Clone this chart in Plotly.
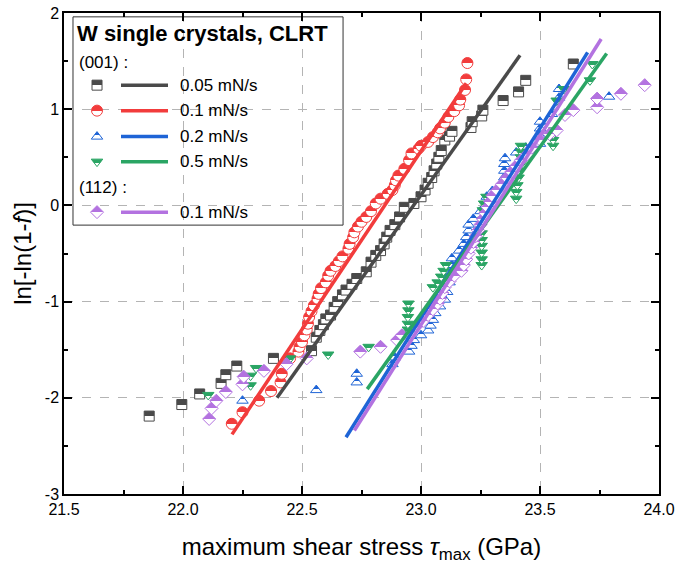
import plotly.graph_objects as go

# ---------------- data ----------------
x_001_005 = [21.858, 21.995, 22.07, 22.16, 22.18, 22.226, 22.38, 22.54, 22.56, 22.575,
             22.59, 22.60, 22.62, 22.635, 22.65, 22.67, 22.685, 22.71, 22.73, 22.77,
             22.79, 22.81, 22.83, 22.845, 22.856, 22.87, 22.89, 22.91, 22.93, 22.97,
             23.00, 23.017, 23.03, 23.045, 23.055, 23.066, 23.075, 23.085, 23.10, 23.12,
             23.13, 23.21, 23.215, 23.255, 23.26, 23.345, 23.41, 23.44, 23.64]
y_001_005 = [-2.19, -2.07, -1.96, -1.85, -1.76, -1.67, -1.59, -1.51, -1.37, -1.30,
             -1.24, -1.18, -1.14, -1.06, -1.00, -0.93, -0.88, -0.82, -0.76, -0.69,
             -0.59, -0.52, -0.47, -0.40, -0.33, -0.26, -0.20, -0.12, -0.02, 0.02,
             0.09, 0.16, 0.23, 0.29, 0.36, 0.43, 0.50, 0.57, 0.68, 0.72,
             0.77, 0.81, 0.87, 0.93, 0.99, 1.09, 1.18, 1.30, 1.47]

x_001_01 = [22.205, 22.25, 22.32, 22.37, 22.41, 22.415, 22.45, 22.485, 22.49, 22.50,
            22.51, 22.52, 22.525, 22.53, 22.54, 22.55, 22.565, 22.57, 22.58, 22.60,
            22.61, 22.62, 22.64, 22.655, 22.67, 22.695, 22.70, 22.715, 22.72, 22.735,
            22.75, 22.77, 22.79, 22.81, 22.83, 22.86, 22.88, 22.89, 22.895, 22.905,
            22.93, 22.95, 22.96, 22.99, 23.00, 23.03, 23.05, 23.07, 23.08, 23.10,
            23.115, 23.14, 23.16, 23.165, 23.185, 23.19, 23.195]
y_001_01 = [-2.27, -2.15, -2.03, -1.93, -1.84, -1.75, -1.59, -1.52, -1.47, -1.42,
            -1.35, -1.29, -1.23, -1.16, -1.10, -1.04, -0.97, -0.92, -0.86, -0.80,
            -0.73, -0.68, -0.63, -0.58, -0.53, -0.45, -0.40, -0.33, -0.28, -0.22,
            -0.17, -0.12, -0.06, 0.02, 0.07, 0.12, 0.16, 0.21, 0.26, 0.31,
            0.38, 0.47, 0.54, 0.59, 0.62, 0.66, 0.71, 0.76, 0.80, 0.86,
            0.92, 0.98, 1.04, 1.10, 1.20, 1.31, 1.48]

x_001_02 = [22.25, 22.56, 22.73, 22.73, 22.88, 22.89, 22.95, 22.96, 22.97, 23.00,
            23.03, 23.04, 23.05, 23.06, 23.08, 23.10, 23.11, 23.12, 23.125, 23.13,
            23.13, 23.16, 23.18, 23.19, 23.20, 23.20, 23.22, 23.25, 23.276, 23.30,
            23.35, 23.35, 23.35, 23.353, 23.40, 23.44, 23.50, 23.50, 23.50, 23.50,
            23.55, 23.58, 23.58, 23.79]
y_001_02 = [-2.03, -1.92, -1.84, -1.75, -1.65, -1.58, -1.52, -1.46, -1.40, -1.35,
            -1.30, -1.25, -1.19, -1.12, -1.05, -0.98, -0.90, -0.80, -0.70, -0.62,
            -0.55, -0.47, -0.40, -0.33, -0.26, -0.20, -0.14, -0.06, 0.09, 0.15,
            0.29, 0.36, 0.43, 0.49, 0.55, 0.60, 0.64, 0.72, 0.80, 0.87,
            0.95, 1.12, 1.21, 1.13]

x_001_05 = [22.106, 22.284, 22.284, 22.307, 22.45, 22.61, 22.78, 22.945, 22.945, 22.945,
            22.947, 22.947, 23.05, 23.07, 23.085, 23.095, 23.105, 23.255, 23.255, 23.255,
            23.255, 23.255, 23.255, 23.26, 23.26, 23.265, 23.275, 23.40, 23.40, 23.405,
            23.41, 23.41, 23.42, 23.42, 23.42, 23.42, 23.555, 23.555, 23.556, 23.56,
            23.57, 23.60, 23.71, 23.72]
y_001_05 = [-1.97, -1.87, -1.77, -1.69, -1.59, -1.55, -1.47, -1.29, -1.23, -1.16,
            -1.09, -1.02, -0.85, -0.80, -0.74, -0.68, -0.62, -0.62, -0.56, -0.49,
            -0.42, -0.36, -0.29, -0.15, -0.05, 0.02, 0.09, 0.07, 0.14, 0.21,
            0.29, 0.36, 0.43, 0.50, 0.56, 0.62, 0.62, 0.68, 0.74, 0.78,
            1.09, 1.21, 1.30, 1.47]

x_112_01 = [22.11, 22.12, 22.14, 22.18, 22.25, 22.255, 22.34, 22.435, 22.52, 22.745,
            22.83, 22.90, 22.92, 22.98, 23.01, 23.03, 23.05, 23.07, 23.08, 23.09,
            23.10, 23.12, 23.14, 23.17, 23.18, 23.19, 23.20, 23.21, 23.22, 23.23,
            23.24, 23.25, 23.26, 23.27, 23.28, 23.29, 23.30, 23.32, 23.34, 23.36,
            23.38, 23.40, 23.42, 23.445, 23.465, 23.50, 23.54, 23.57, 23.605, 23.64,
            23.74, 23.74, 23.84, 23.94]
y_112_01 = [-2.22, -2.11, -2.03, -1.94, -1.86, -1.78, -1.72, -1.65, -1.59, -1.52,
            -1.47, -1.40, -1.35, -1.26, -1.20, -1.14, -1.08, -1.02, -0.97, -0.91,
            -0.85, -0.79, -0.73, -0.68, -0.62, -0.56, -0.50, -0.44, -0.38, -0.32,
            -0.26, -0.20, -0.14, -0.08, -0.02, 0.04, 0.10, 0.16, 0.22, 0.29,
            0.35, 0.41, 0.47, 0.53, 0.60, 0.68, 0.74, 0.78, 0.94, 0.99,
            1.02, 1.11, 1.16, 1.25]

# linear fits (end points)
fit_x_001_005 = [22.395, 23.416]
fit_y_001_005 = [-2.00, 1.56]
fit_x_001_01 = [22.206, 23.19]
fit_y_001_01 = [-2.38, 1.27]
fit_x_001_02 = [22.685, 23.70]
fit_y_001_02 = [-2.41, 1.59]
fit_x_001_05 = [22.774, 23.78]
fit_y_001_05 = [-1.91, 1.58]
fit_x_112_01 = [22.72, 23.757]
fit_y_112_01 = [-2.34, 1.73]

series_labels = ["0.05 mN/s", "0.1 mN/s", "0.2 mN/s", "0.5 mN/s", "0.1 mN/s"]
group_labels = ["(001) :", "(112) :"]
legend_title = "W single crystals, CLRT"

x_tick_vals = [21.5, 22.0, 22.5, 23.0, 23.5, 24.0]
x_tick_text = ["21.5", "22.0", "22.5", "23.0", "23.5", "24.0"]
y_tick_vals = [-3, -2, -1, 0, 1, 2]
y_tick_text = ["-3", "-2", "-1", "0", "1", "2"]

# ---------------- styles ----------------
FONT = "Liberation Sans, Arial, sans-serif"
styles = [
    dict(color="#4a4a4a", symbol="square", size=10),
    dict(color="#f23c3c", symbol="circle", size=11),
    dict(color="#1e64d6", symbol="triangle-up", size=10),
    dict(color="#2aa564", symbol="triangle-down", size=10),
    dict(color="#b372e0", symbol="diamond", size=10),
]
data = [
    (x_001_005, y_001_005, fit_x_001_005, fit_y_001_005),
    (x_001_01, y_001_01, fit_x_001_01, fit_y_001_01),
    (x_001_02, y_001_02, fit_x_001_02, fit_y_001_02),
    (x_001_05, y_001_05, fit_x_001_05, fit_y_001_05),
    (x_112_01, y_112_01, fit_x_112_01, fit_y_112_01),
]


def half_marker(st):
    return dict(symbol=st["symbol"], size=st["size"], color=st["color"],
                line=dict(color=st["color"], width=1),
                gradient=dict(type="vertical", color="white"))


fig = go.Figure()
for (xs, ys, fx, fy), st, lab in zip(data, styles, series_labels):
    fig.add_trace(go.Scatter(x=xs, y=ys, mode="markers", marker=half_marker(st),
                             name=lab, showlegend=False, hoverinfo="skip"))
for (xs, ys, fx, fy), st, lab in zip(data, styles, series_labels):
    fig.add_trace(go.Scatter(x=fx, y=fy, mode="lines",
                             line=dict(color=st["color"], width=3.5),
                             name=lab, showlegend=False, hoverinfo="skip"))

# ---------------- hand-made legend (paper / overlay-axis fractions) ----------------
box = dict(x0=0.0151, x1=0.469, y0=0.559, y1=0.992)
row_y = [0.850, 0.797, 0.743, 0.691, 0.586]
group_y = [0.898, 0.638]
title_y = 0.958
mark_x, line_x0, line_x1, text_x, left_x = 0.0555, 0.0958, 0.1748, 0.1916, 0.022

fig.add_shape(type="rect", xref="paper", yref="paper", layer="between",
              fillcolor="white", line=dict(color="#333333", width=1), **box)
for st, ry, lab in zip(styles, row_y, series_labels):
    fig.add_trace(go.Scatter(x=[mark_x], y=[ry], xaxis="x2", yaxis="y2", mode="markers",
                             marker=half_marker(st), showlegend=False, hoverinfo="skip"))
    fig.add_shape(type="line", xref="paper", yref="paper", x0=line_x0, x1=line_x1,
                  y0=ry, y1=ry, line=dict(color=st["color"], width=3.5))
    fig.add_annotation(x=text_x, y=ry, xref="paper", yref="paper", text=lab,
                       showarrow=False, xanchor="left", yanchor="middle",
                       font=dict(family=FONT, size=17, color="black"))
for gy, gl in zip(group_y, group_labels):
    fig.add_annotation(x=left_x, y=gy, xref="paper", yref="paper", text=gl,
                       showarrow=False, xanchor="left", yanchor="middle",
                       font=dict(family=FONT, size=17, color="black"))
fig.add_annotation(x=left_x - 0.004, y=title_y, xref="paper", yref="paper",
                   text="<b>" + legend_title + "</b>", showarrow=False,
                   xanchor="left", yanchor="middle",
                   font=dict(family=FONT, size=22, color="black"))

axis_common = dict(showline=True, linecolor="black", linewidth=1.5, mirror="ticks",
                   ticks="inside", ticklen=8, tickwidth=1.5, tickcolor="black",
                   showgrid=True, gridcolor="#b4b4b4", gridwidth=1, griddash="dash",
                   zeroline=False, tickmode="array", automargin=False,
                   tickfont=dict(family=FONT, size=16, color="black"))

fig.update_layout(
    width=682, height=571,
    margin=dict(l=64, r=23, t=13, b=77, autoexpand=False),
    paper_bgcolor="white", plot_bgcolor="white",
    font=dict(family=FONT, color="black"),
    showlegend=False,
    xaxis=dict(range=[21.5, 24.0], tickvals=x_tick_vals, ticktext=x_tick_text,
               minor=dict(tickmode="linear", tick0=21.5, dtick=0.25, ticks="inside",
                          ticklen=4, tickwidth=1.5, tickcolor="black", showgrid=False),
               title=dict(text="maximum shear stress <i>τ</i><sub>max</sub> (GPa)",
                          font=dict(family=FONT, size=24, color="black"), standoff=21),
               **axis_common),
    yaxis=dict(range=[-3, 2], tickvals=y_tick_vals, ticktext=y_tick_text,
               minor=dict(tickmode="linear", tick0=-3, dtick=0.5, ticks="inside",
                          ticklen=4, tickwidth=1.5, tickcolor="black", showgrid=False),
               title=dict(text="ln[-ln(1-<i>f</i>)]",
                          font=dict(family=FONT, size=24, color="black"), standoff=6),
               **axis_common),
    xaxis2=dict(overlaying="x", range=[0, 1], visible=False, anchor="y2", automargin=False),
    yaxis2=dict(overlaying="y", range=[0, 1], visible=False, anchor="x2", automargin=False),
)

post = """
document.body.style.margin = '0';
document.body.style.padding = '0';
var gd = document.getElementById('{plot_id}');
function sharpen(){
  gd.querySelectorAll('linearGradient stop').forEach(function(s){ s.setAttribute('offset','50%'); });
}
sharpen();
gd.on('plotly_afterplot', sharpen);
"""
fig.write_html("out.html", post_script=post, config={"displayModeBar": False})
